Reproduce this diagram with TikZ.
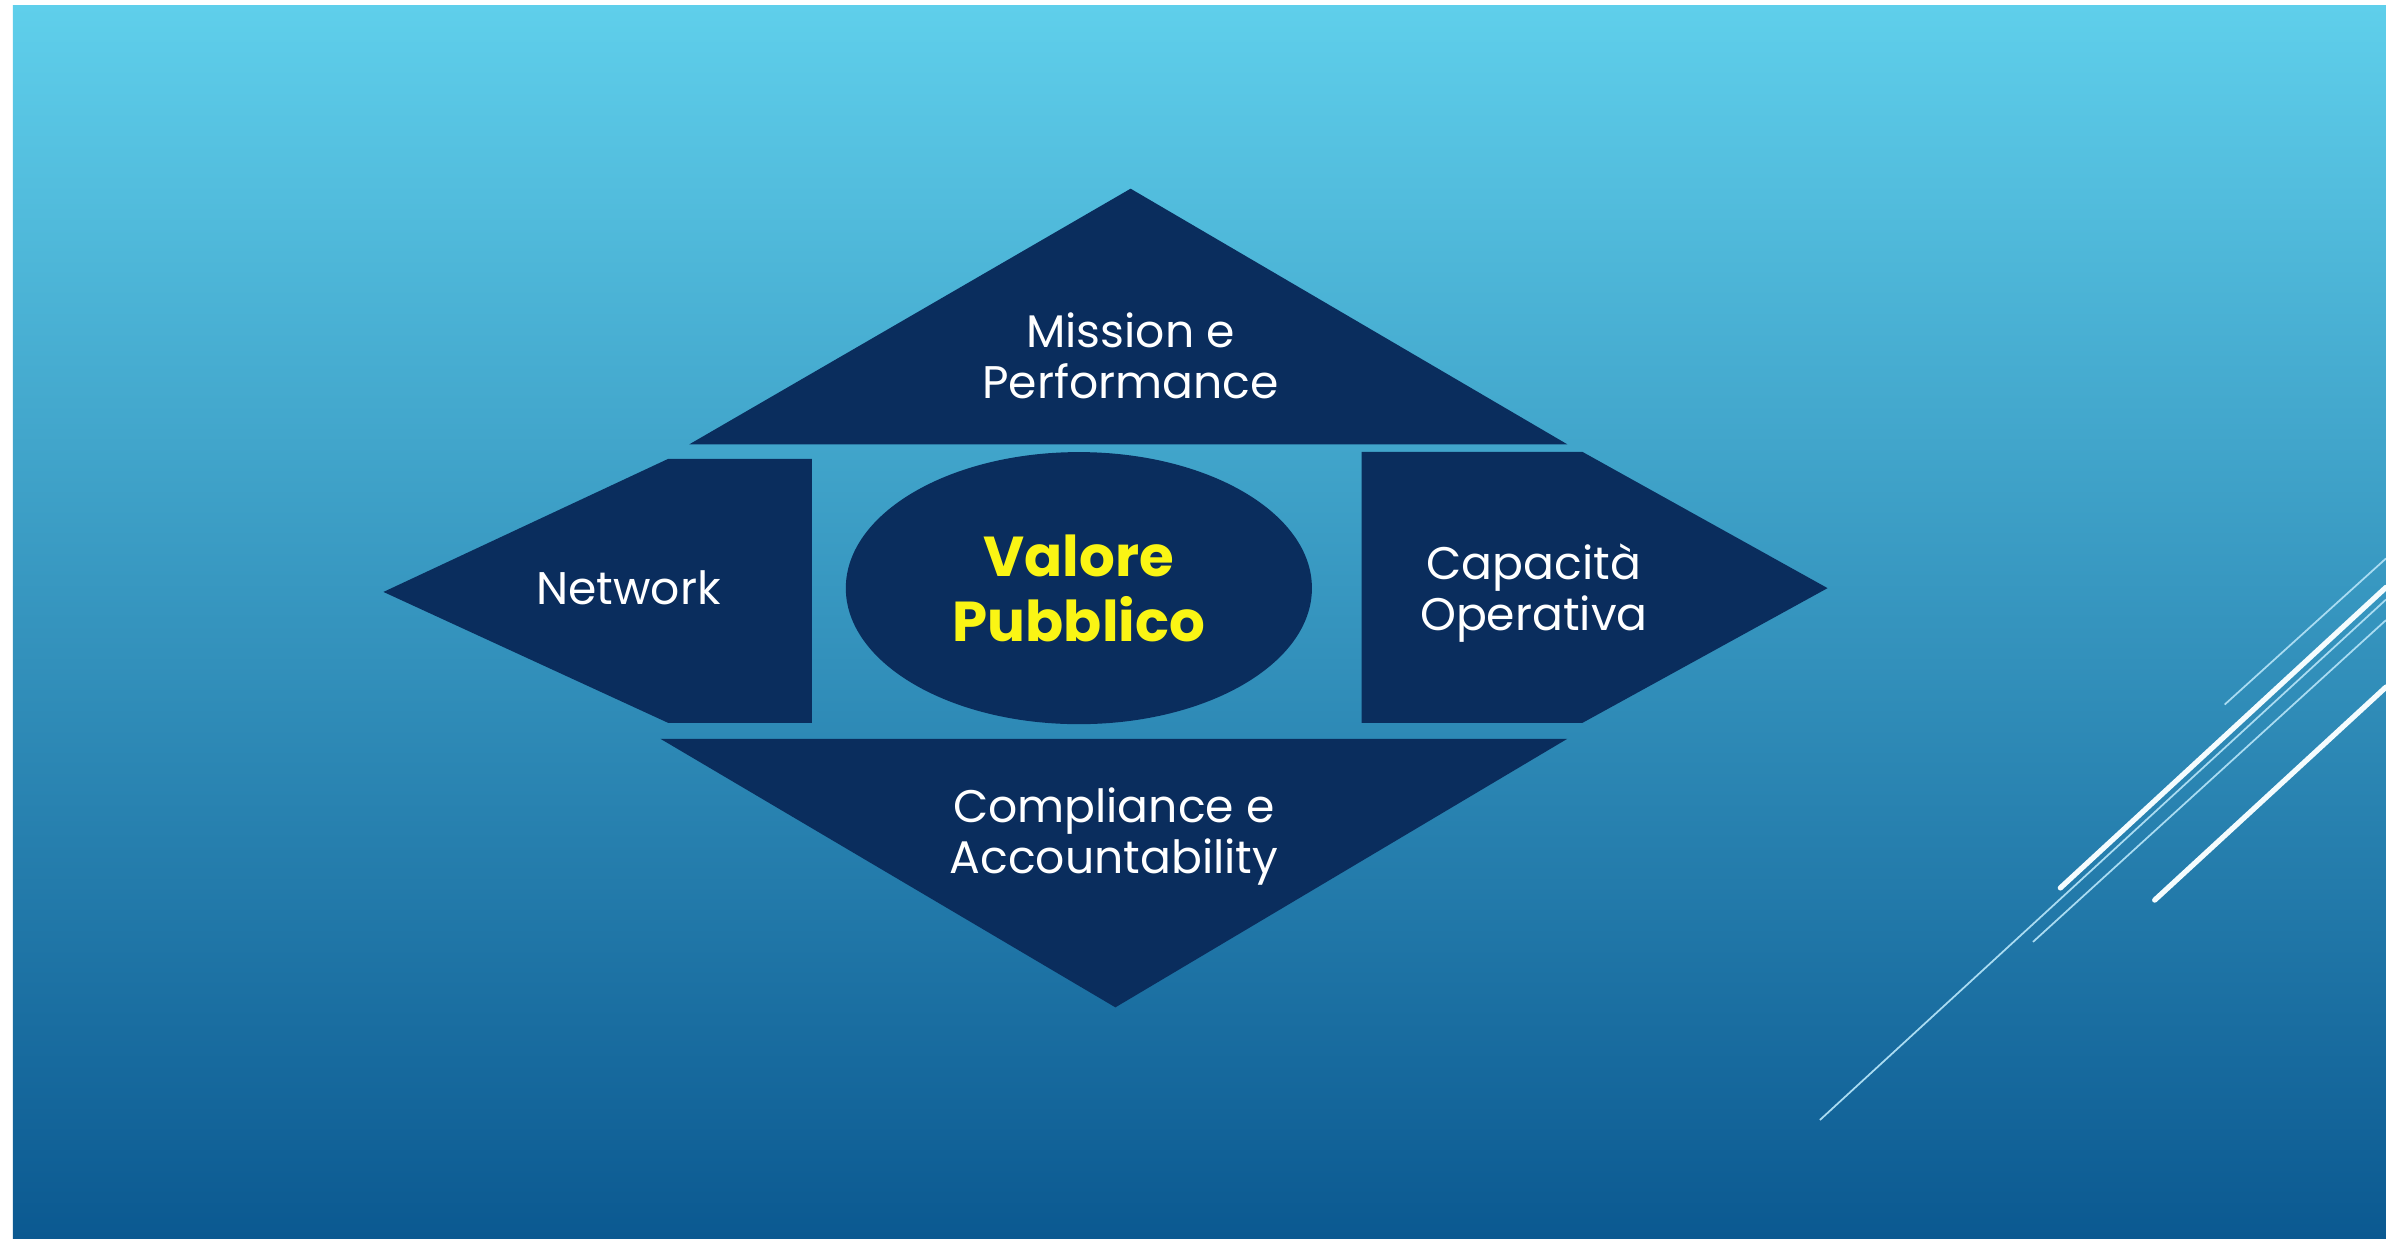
\documentclass[tikz,border=0pt]{standalone}
\usepackage{fontspec}
\setmainfont{Poppins}
\usetikzlibrary{shapes.geometric}

\definecolor{navy}{RGB}{10,45,93}
\definecolor{skytop}{RGB}{95,207,235}
\definecolor{skymid}{RGB}{60,157,199}
\definecolor{skybot}{RGB}{11,89,145}
\definecolor{valyellow}{RGB}{250,245,20}
\definecolor{streak}{RGB}{170,220,242}

\begin{document}
\begin{tikzpicture}[
        x=0.015217cm, y=-0.015217cm,
        panel/.style={fill=navy},
        caption/.style={text=white, align=center, font=\fontsize{13}{14.5}\selectfont},
        core/.style={ellipse, fill=navy, text=valyellow, align=center, minimum width=4.66cm, minimum height=2.72cm, font=\fontsize{16}{18.6}\selectfont\bfseries},
        bigline/.style={draw=white!96!cyan, line width=1.5pt, line cap=round},
        thinline/.style={draw=streak, line width=0.5pt}
    ]
        \useasboundingbox (0,0) rectangle (1568,814);

        % Background
        \fill[white] (0,0) rectangle (1568,814);
        \shade[top color=skytop, middle color=skymid, bottom color=skybot] (8.5,3.3) rectangle (1568,814);

        % Top triangle
        \fill[panel] (743,124) -- (1030,292) -- (453,292) -- cycle;
        \node[caption] (mission) at (743,234) {Mission e\\Performance};

        % Left arrow
        \fill[panel] (252,389) -- (439,301.6) -- (533.6,301.6) -- (533.6,475) -- (439,475) -- cycle;
        \node[caption] (network) at (413,386) {Network};

        % Right arrow
        \fill[panel] (894.8,297) -- (1040,297) -- (1201,386.5) -- (1040,475) -- (894.8,475) -- cycle;
        \node[caption] (capacita) at (1008,390) {Capacità\\Operativa};

        % Bottom triangle
        \fill[panel] (434,485.5) -- (1030,485.5) -- (733,662) -- cycle;
        \node[caption] (compliance) at (732,549.5) {Compliance e\\Accountability};

        % Centre
        \node[core] (valore) at (709,386.5) {Valore\\Pubblico};

        % Streaks
        \draw[thinline] (1462,463) -- (1568,367);
        \draw[thinline] (1196,736) -- (1568,394);
        \draw[thinline] (1336,619) -- (1568,407.5);
        \draw[bigline] (1354,583.5) -- (1568,386);
        \draw[bigline] (1416,591.5) -- (1568,451.5);
    \end{tikzpicture}
\end{document}
